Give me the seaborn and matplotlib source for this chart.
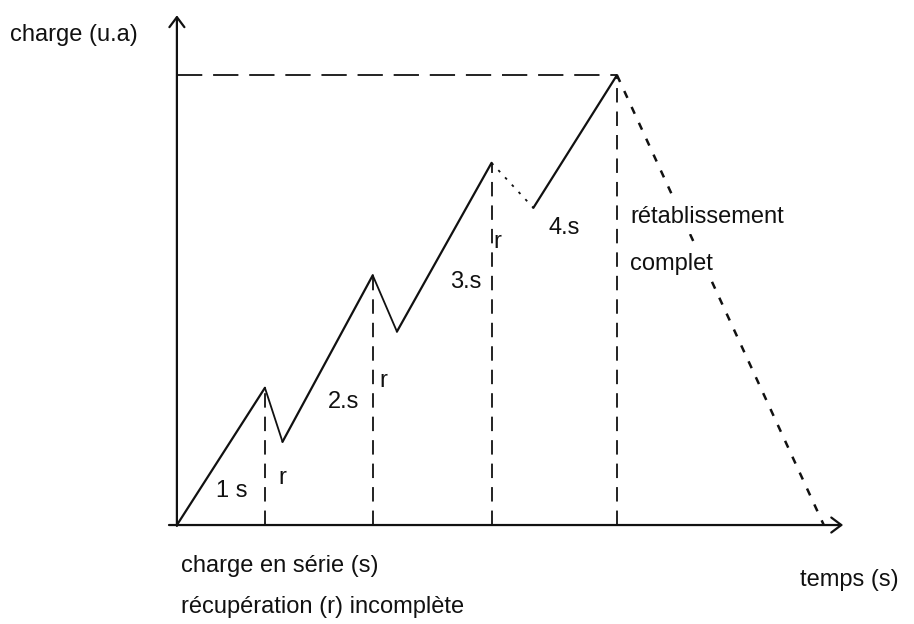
import matplotlib
matplotlib.use("Agg")
import matplotlib.pyplot as plt
import seaborn as sns
import pandas as pd

# Charge curve: four loading series separated by incomplete recoveries,
# then a full return to zero (rétablissement complet).
temps = [0.0, 2.0, 2.4, 4.45, 5.0, 7.15, 8.1, 10.0, 14.7]
charge = [0.0, 3.05, 1.85, 5.55, 4.3, 8.05, 7.05, 10.0, 0.0]
phase = ["série", "récup", "série", "récup", "série", "récup_pointillé", "série", "retour"]

serie_labels = ["1 s", "2.s", "3.s", "4.s"]
recup_label = "r"

sns.set_theme(style="white")
plt.rcParams["font.family"] = ["Liberation Sans", "DejaVu Sans"]

fig = plt.figure(figsize=(9.14, 6.24), dpi=100)
ax = fig.add_axes([0, 0, 1, 1])
ax.set_xlim(-4.02, 16.75)
ax.set_ylim(-2.2, 11.67)
ax.axis("off")

ink = "#111111"
styles = {
    "série": dict(linestyle="-", linewidth=1.6),
    "récup": dict(linestyle="-", linewidth=1.3),
    "récup_pointillé": dict(linestyle=(0, (1.5, 4)), linewidth=1.3),
    "retour": dict(linestyle=(0, (3, 4)), linewidth=1.8),
}

for i, kind in enumerate(phase):
    seg = pd.DataFrame({"t": temps[i:i + 2], "c": charge[i:i + 2]})
    sns.lineplot(data=seg, x="t", y="c", ax=ax, color=ink, sort=False,
                 estimator=None, zorder=1, **styles[kind])

# vertical dashed markers under each peak
peak_idx = [i + 1 for i, k in enumerate(phase) if k == "série"]
for j in peak_idx:
    ax.plot([temps[j], temps[j]], [0, charge[j]], color=ink, lw=1.3,
            linestyle=(0, (8, 5)), zorder=1)

# horizontal dashed line at the maximal charge
top = peak_idx[-1]
ax.plot([0, temps[top]], [charge[top], charge[top]], color=ink, lw=1.3,
        linestyle=(0, (14, 6)), zorder=1)

# axes with open arrowheads
ax.annotate("", xy=(0, 11.33), xytext=(0, -0.02),
            arrowprops=dict(arrowstyle="->,head_length=0.6,head_width=0.45",
                            color=ink, lw=1.6, shrinkA=0, shrinkB=0))
ax.annotate("", xy=(15.14, 0), xytext=(-0.18, 0),
            arrowprops=dict(arrowstyle="->,head_length=0.6,head_width=0.45",
                            color=ink, lw=1.6, shrinkA=0, shrinkB=0))

fs = 17
txt = dict(color=ink, fontsize=fs, va="center")

# series and recovery labels
serie_pos = [(0.88, 0.76), (3.42, 2.73), (6.2, 5.4), (8.45, 6.6)]
for lab, (x, y) in zip(serie_labels, serie_pos):
    ax.text(x, y, lab, ha="left", **txt)
recup_pos = [(2.3, 1.05), (4.6, 3.2), (7.2, 6.3)]
for x, y in recup_pos:
    ax.text(x, y, recup_label, ha="left", **txt)

# the return-to-zero line passes behind this caption
box = dict(boxstyle="square,pad=0.25", facecolor="white", edgecolor="none")
ax.text(10.3, 6.85, "rétablissement", ha="left", bbox=box, zorder=10, **txt)
ax.text(10.3, 5.8, "complet", ha="left", bbox=box, zorder=10, **txt)

ax.text(-3.8, 10.9, "charge (u.a)", ha="left", **txt)
ax.text(14.15, -1.22, "temps (s)", ha="left", **txt)
ax.text(0.1, -0.92, "charge en série (s)", ha="left", **txt)
ax.text(0.1, -1.83, "récupération (r) incomplète", ha="left", **txt)

fig.savefig("out.png", dpi=100, facecolor="white")
